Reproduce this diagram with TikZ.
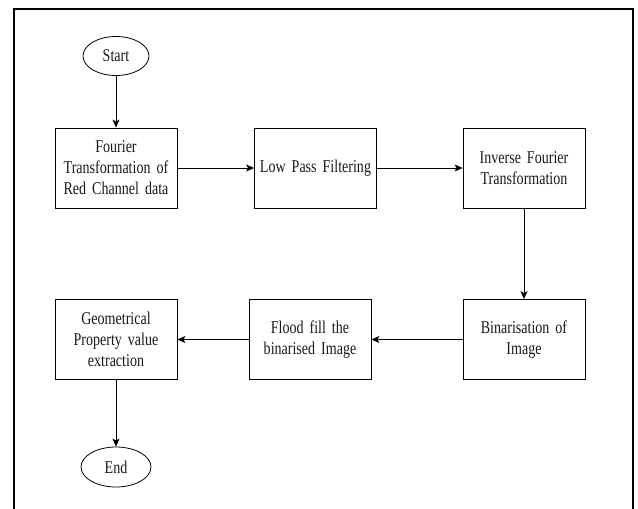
\documentclass[tikz,border=0pt]{standalone}
\usepackage{fontspec}
\setmainfont[FakeStretch=0.78,WordSpace=0.8]{Liberation Serif}
\usepackage{tikz}
\usetikzlibrary{positioning}
\usetikzlibrary{shapes,shapes.geometric,arrows.meta}

\begin{document}
\begin{tikzpicture}[on grid,
    >={Stealth[length=8pt,width=7pt,inset=2pt]},
    every node/.style={font=\fontsize{18}{21}\selectfont, text=black!90},
    procbox/.style={draw, line width=0.8pt, minimum width=122pt, minimum height=80pt,
                    align=center, text width=120pt, inner sep=1pt},
    terminal/.style={draw, ellipse, line width=0.8pt, minimum width=66pt,
                     minimum height=39pt, inner sep=1pt}]
     \useasboundingbox (0,0) rectangle (638pt,-509pt);
     \draw[line width=1.1pt] (14pt,-509pt) -- (14pt,-9pt) -- (633pt,-9pt) -- (633pt,-509pt);

     \node[terminal] (start) at (116pt,-56pt) {Start};
      \node[procbox] (fourier) [below =112pt of start] {Fourier\\Transformation of\\Red Channel data};
      \node[procbox] (lowpass) [right =199.5pt of fourier] {Low Pass Filtering};
      \node[procbox] (inverse) [right =208.5pt of lowpass] {Inverse Fourier\\Transformation};
      \node[procbox] (binar) [below =171.5pt of inverse] {Binarisation of\\Image};
      \node[procbox] (flood) [left =214pt of binar] {Flood fill the\\binarised Image};
      \node[procbox] (geom) [left =194pt of flood] {Geometrical\\Property value\\extraction};
      \node[terminal, minimum width=70pt, minimum height=40pt] (end) [below =127.5pt of geom] {End};

      \path[->, line width=0.8pt]
      (start) edge (fourier)
      (fourier) edge (lowpass)
      (lowpass) edge (inverse)
      (inverse) edge (binar)
      (binar) edge (flood)
      (flood) edge (geom)
      (geom) edge (end)
      ;
  \end{tikzpicture}
\end{document}
